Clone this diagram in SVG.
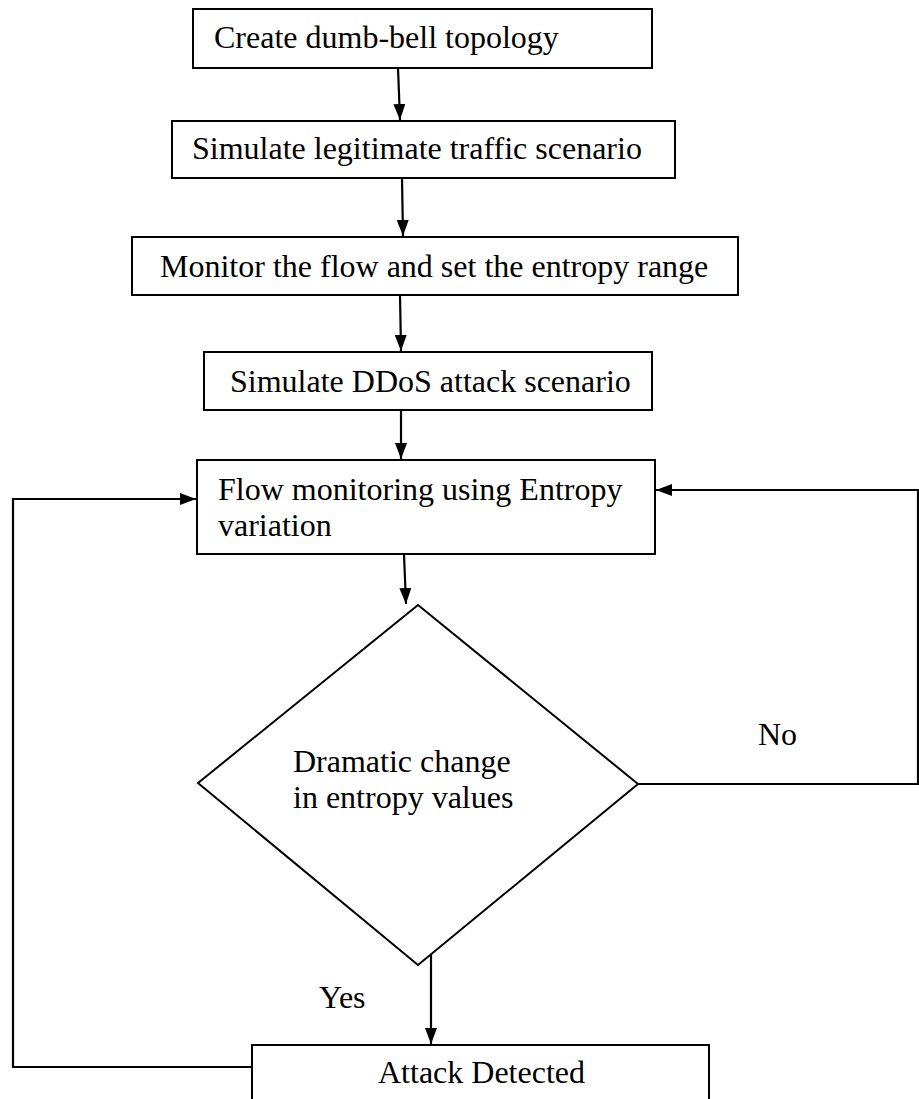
<svg xmlns="http://www.w3.org/2000/svg" width="919" height="1099" viewBox="0 0 919 1099">
  <style>
    .box { fill: #ffffff; stroke: #000000; stroke-width: 2; }
    .line { fill: none; stroke: #000000; stroke-width: 2.2; }
    .label { font-family: "Liberation Serif", "Times New Roman", serif; font-size: 32px; fill: #000000; }
  </style>
  <defs>
    <marker id="arrow" viewBox="0 0 16 12" refX="16" refY="6" markerWidth="16" markerHeight="12" markerUnits="userSpaceOnUse" orient="auto">
      <path d="M0,0 L16,6 L0,12 Z" fill="#000000"/>
    </marker>
  </defs>
  <rect width="919" height="1099" fill="#ffffff"/>

  <g id="connectors">
    <line class="line" x1="398" y1="68" x2="400" y2="120" marker-end="url(#arrow)"/>
    <line class="line" x1="402" y1="178" x2="403" y2="236" marker-end="url(#arrow)"/>
    <line class="line" x1="400" y1="295" x2="401" y2="351" marker-end="url(#arrow)"/>
    <line class="line" x1="401" y1="410" x2="401" y2="459" marker-end="url(#arrow)"/>
    <line class="line" x1="404" y1="554" x2="406" y2="604" marker-end="url(#arrow)"/>
    <line class="line" x1="431" y1="953" x2="431" y2="1044" marker-end="url(#arrow)"/>
    <!-- "No" branch back into the monitoring box -->
    <polyline class="line" points="638,784 918,784 918,490 656,490" marker-end="url(#arrow)"/>
    <!-- loop from detection back to monitoring -->
    <polyline class="line" points="252,1067 13,1067 13,499 196,499" marker-end="url(#arrow)"/>
    <text class="label" x="758" y="745">No</text>
    <text class="label" x="319" y="1008">Yes</text>
  </g>

  <g id="create-topology">
    <rect class="box" x="193" y="9" width="459" height="59"/>
    <text class="label" x="214" y="48">Create dumb-bell topology</text>
  </g>

  <g id="simulate-legitimate">
    <rect class="box" x="172" y="121" width="503" height="57"/>
    <text class="label" x="192" y="159">Simulate legitimate traffic scenario</text>
  </g>

  <g id="monitor-flow">
    <rect class="box" x="132" y="237" width="606" height="58"/>
    <text class="label" x="160" y="277">Monitor the flow and set the entropy range</text>
  </g>

  <g id="simulate-ddos">
    <rect class="box" x="204" y="352" width="448" height="58"/>
    <text class="label" x="230" y="392">Simulate DDoS attack scenario</text>
  </g>

  <g id="flow-monitoring">
    <rect class="box" x="197" y="460" width="458" height="94"/>
    <text class="label" x="218" y="500">Flow monitoring using Entropy</text>
    <text class="label" x="218" y="536">variation</text>
  </g>

  <g id="entropy-decision">
    <polygon class="box" points="418,605 638,784 418,965 198,783"/>
    <text class="label" x="293" y="772">Dramatic change</text>
    <text class="label" x="293" y="808">in entropy values</text>
  </g>

  <g id="attack-detected">
    <rect class="box" x="252" y="1045" width="457" height="70"/>
    <text class="label" x="378" y="1083">Attack Detected</text>
  </g>
</svg>
